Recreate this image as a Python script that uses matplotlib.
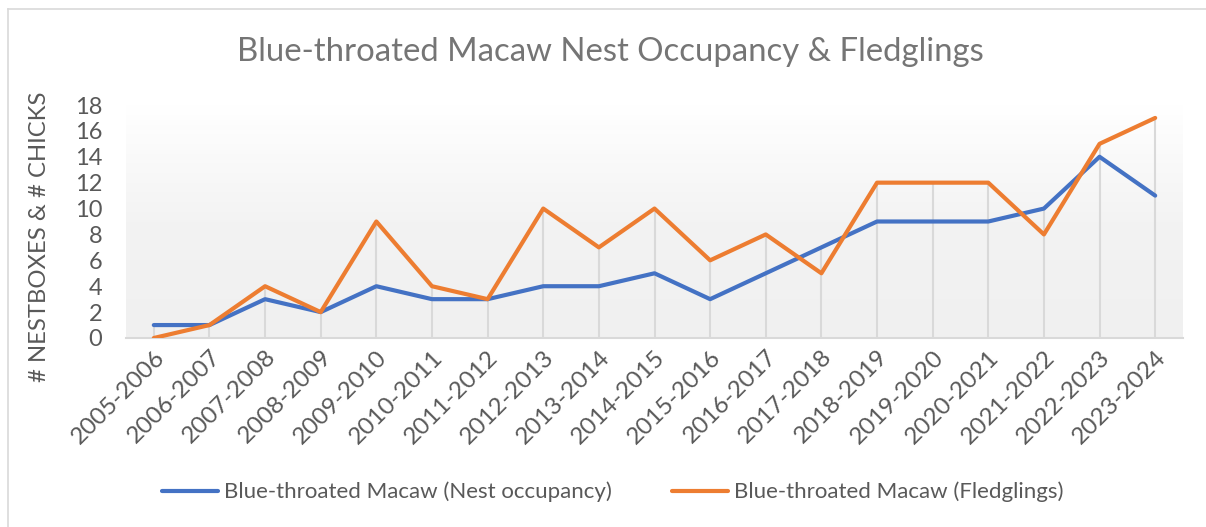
import numpy as np
import matplotlib
matplotlib.use("Agg")
import matplotlib.pyplot as plt
from matplotlib.lines import Line2D

plt.rcParams['font.family'] = ['Lato', 'DejaVu Sans']

seasons = ['2005-2006', '2006-2007', '2007-2008', '2008-2009', '2009-2010',
           '2010-2011', '2011-2012', '2012-2013', '2013-2014', '2014-2015',
           '2015-2016', '2016-2017', '2017-2018', '2018-2019', '2019-2020',
           '2020-2021', '2021-2022', '2022-2023', '2023-2024']
nest_occupancy = [1, 1, 3, 2, 4, 3, 3, 4, 4, 5, 3, 5, 7, 9, 9, 9, 10, 14, 11]
fledglings = [0, 1, 4, 2, 9, 4, 3, 10, 7, 10, 6, 8, 5, 12, 12, 12, 8, 15, 17]

W, H = 1206, 527
text_col = '#595959'
grid_col = '#d9d9d9'

fig = plt.figure(figsize=(W / 100, H / 100), dpi=100)
ax = fig.add_axes([126 / W, 1 - 338 / H, (1183 - 126) / W, (338 - 105) / H])

x = np.arange(len(seasons))

# gradient plot area, white on top to light grey at bottom
grad = np.linspace(1, 0, 256).reshape(-1, 1)
cmap = matplotlib.colors.LinearSegmentedColormap.from_list('g', ['#f0f0f0', '#f3f3f3', '#ffffff'])
ax.imshow(grad, aspect='auto', cmap=cmap, extent=[0, 1, 0, 1], transform=ax.transAxes,
          zorder=0, origin='upper')

# drop lines
tops = np.maximum(nest_occupancy, fledglings)
ax.vlines(x, 0, tops, color=grid_col, lw=1.5, zorder=1)

ax.plot(x, nest_occupancy, color='#4472C4', lw=3, solid_capstyle='round',
        label='Blue-throated Macaw (Nest occupancy)', zorder=3)
ax.plot(x, fledglings, color='#ED7D31', lw=3, solid_capstyle='round',
        label='Blue-throated Macaw (Fledglings)', zorder=4)

ax.set_xlim(-0.5, len(seasons) - 0.5)
ax.set_ylim(0, 18)
ax.set_yticks(range(0, 19, 2))
ax.set_xticks(x)
ax.set_xticklabels(seasons, rotation=45, ha='right', rotation_mode='anchor')
ax.tick_params(axis='both', length=0, colors=text_col)
ax.tick_params(axis='y', labelsize=17, pad=17)
ax.tick_params(axis='x', labelsize=17.5, pad=6)

for s in ['top', 'right', 'left']:
    ax.spines[s].set_visible(False)
ax.spines['bottom'].set_color(grid_col)
ax.spines['bottom'].set_linewidth(1.5)
ax.spines['bottom'].set_zorder(2)

fig.text(40 / W, 1 - 237 / H, '# NESTBOXES & # CHICKS', rotation=90,
         ha='center', va='center', fontsize=17.2, color=text_col)
fig.text(610 / W, 1 - 52 / H, 'Blue-throated Macaw Nest Occupancy & Fledglings',
         ha='center', va='center', fontsize=23.7, color='#757575')

fig.legend(loc='center', bbox_to_anchor=(613 / W, 1 - 492 / H), ncol=2, frameon=False,
           fontsize=16, handlelength=2.5, handletextpad=0.3, columnspacing=2.7,
           labelcolor=text_col)

# chart border (left and top edges visible)
fig.add_artist(Line2D([7.5 / W, 7.5 / W], [0, 1 - 9 / H], transform=fig.transFigure,
                      color=grid_col, lw=1.2))
fig.add_artist(Line2D([7.5 / W, 1], [1 - 9 / H, 1 - 9 / H], transform=fig.transFigure,
                      color=grid_col, lw=1.2))

fig.savefig('out.png', dpi=100)
